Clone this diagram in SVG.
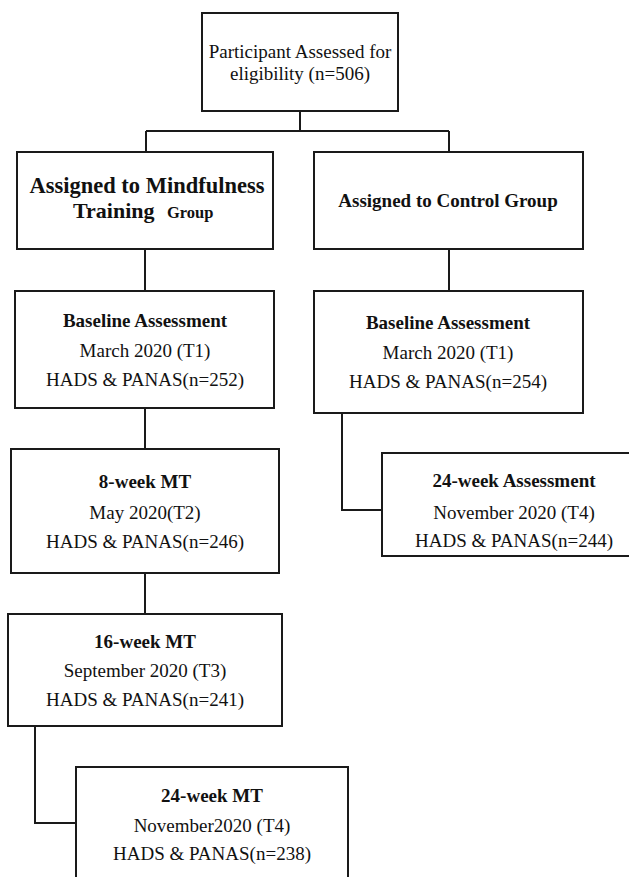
<svg xmlns="http://www.w3.org/2000/svg" width="629" height="877" viewBox="0 0 629 877">
<style>
.box{fill:#fff;stroke:#1a1a1a;stroke-width:2}
.ln{fill:none;stroke:#1a1a1a;stroke-width:2}
text{font-family:"Liberation Serif","Times New Roman",serif;fill:#111;font-size:19px;text-anchor:middle}
.b{font-weight:bold}
</style>
<rect width="629" height="877" fill="#fff"/>
<g id="connectors">
<path class="ln" d="M300 111 V131 M146 131 H449 M146 131 V152 M449 131 V152"/>
<path class="ln" d="M145 249 V291"/>
<path class="ln" d="M449 249 V291"/>
<path class="ln" d="M145 408 V449"/>
<path class="ln" d="M342 413 V510 H382"/>
<path class="ln" d="M145 573 V614"/>
<path class="ln" d="M35 726 V823 H76"/>
</g>
<g id="n-eligibility">
<rect class="box" x="202" y="13" width="196" height="98"/>
<text x="300" y="58">Participant Assessed  for</text>
<text x="300" y="80">eligibility (n=506)</text>
</g>
<g id="n-mindfulness">
<rect class="box" x="17" y="152" width="256" height="97"/>
<text class="b" x="147" y="193" style="font-size:22.5px">Assigned to Mindfulness</text>
<text class="b" x="73" y="218" style="font-size:22px;text-anchor:start">Training</text>
<text class="b" x="167" y="218" style="font-size:16.5px;text-anchor:start">Group</text>
</g>
<g id="n-control">
<rect class="box" x="314" y="152" width="269" height="97"/>
<text class="b" x="448" y="207">Assigned to Control Group</text>
</g>
<g id="n-baseline-mt">
<rect class="box" x="15" y="291" width="259" height="117"/>
<text class="b" x="145" y="327">Baseline Assessment</text>
<text x="145" y="357">March 2020 (T1)</text>
<text x="145" y="386">HADS &amp; PANAS(n=252)</text>
</g>
<g id="n-baseline-control">
<rect class="box" x="314" y="291" width="269" height="122"/>
<text class="b" x="448" y="329">Baseline Assessment</text>
<text x="448" y="359">March 2020 (T1)</text>
<text x="448" y="388">HADS &amp; PANAS(n=254)</text>
</g>
<g id="n-8week">
<rect class="box" x="11" y="449" width="268" height="124"/>
<text class="b" x="145" y="488">8-week MT</text>
<text x="145" y="519">May 2020(T2)</text>
<text x="145" y="548">HADS &amp; PANAS(n=246)</text>
</g>
<g id="n-24week-control">
<rect class="box" x="382" y="453" width="266" height="103"/>
<text class="b" x="514" y="487">24-week Assessment</text>
<text x="514" y="519">November 2020 (T4)</text>
<text x="514" y="547">HADS &amp; PANAS(n=244)</text>
</g>
<g id="n-16week">
<rect class="box" x="8" y="614" width="274" height="112"/>
<text class="b" x="145" y="648">16-week MT</text>
<text x="145" y="677">September 2020 (T3)</text>
<text x="145" y="706">HADS &amp; PANAS(n=241)</text>
</g>
<g id="n-24week-mt">
<rect class="box" x="76" y="767" width="272" height="130"/>
<text class="b" x="212" y="802">24-week MT</text>
<text x="212" y="832">November2020 (T4)</text>
<text x="212" y="860">HADS &amp; PANAS(n=238)</text>
</g>
</svg>
